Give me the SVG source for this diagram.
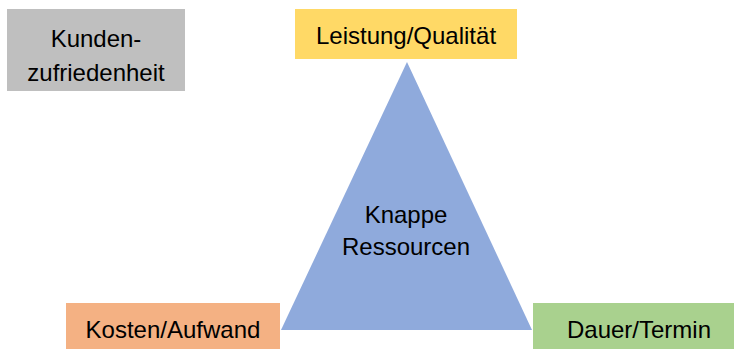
<svg xmlns="http://www.w3.org/2000/svg" width="734" height="349" viewBox="0 0 734 349">
  <style>
    .lbl { font-family: "Liberation Sans", Arial, sans-serif; font-size: 24px; fill: #000; text-anchor: middle; }
  </style>
  <rect width="734" height="349" fill="#fff"/>
  <g id="triangle">
    <polygon points="407,62 281,330 532,330" fill="#8FAADC"/>
    <text class="lbl" x="406" y="223">Knappe</text>
    <text class="lbl" x="406" y="255">Ressourcen</text>
  </g>
  <g id="kundenzufriedenheit">
    <rect x="7" y="9" width="178" height="82" fill="#BFBFBF"/>
    <text class="lbl" x="96" y="47">Kunden-</text>
    <text class="lbl" x="96" y="81">zufriedenheit</text>
  </g>
  <g id="leistung">
    <rect x="295" y="9" width="222" height="50" fill="#FFD966"/>
    <text class="lbl" x="406" y="44">Leistung/Qualität</text>
  </g>
  <g id="kosten">
    <rect x="66" y="303" width="214" height="46" fill="#F4B183"/>
    <text class="lbl" x="173" y="338">Kosten/Aufwand</text>
  </g>
  <g id="dauer">
    <rect x="533" y="303" width="201" height="46" fill="#A9D18E"/>
    <text class="lbl" x="639" y="338">Dauer/Termin</text>
  </g>
  <g id="connectors"/>
</svg>
